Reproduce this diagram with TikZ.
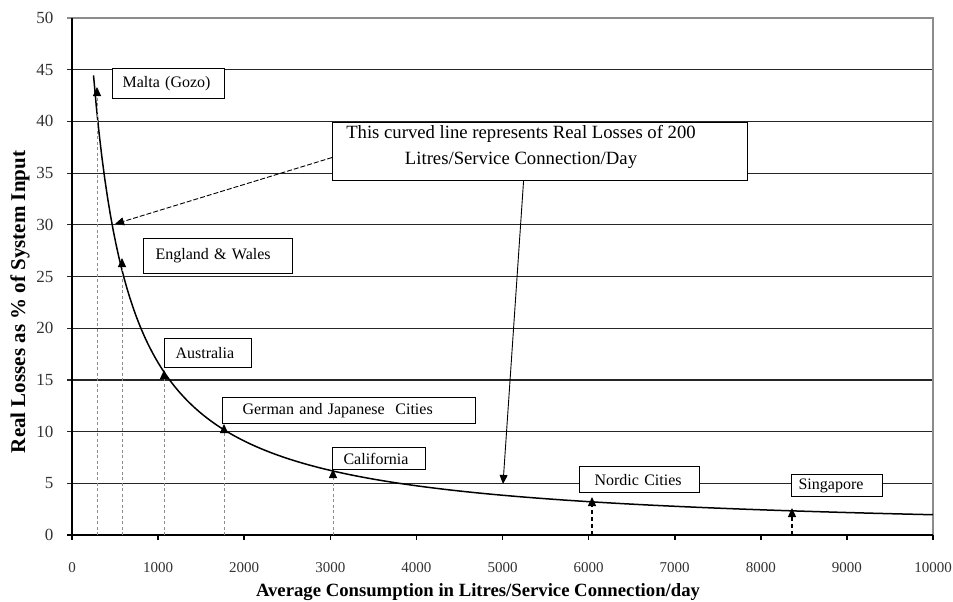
\documentclass[tikz,border=0pt]{standalone}
\usepackage{fontspec}
\setmainfont{Liberation Serif}
\usetikzlibrary{arrows.meta}
\begin{document}
\begin{tikzpicture}[x=1pt,y=-1pt,
  gridline/.style={line width=1.2pt, black!85},
  plotframe/.style={line width=1.1pt, black!45},
  axisline/.style={line width=1.6pt, black},
  lbl/.style={draw, fill=white, line width=1.1pt, font=\fontsize{16}{19}\selectfont, anchor=north west, align=left, inner ysep=0pt},
  drop/.style={dash pattern=on 3pt off 2.5pt, black!45, line width=0.9pt, -{Triangle[width=8pt,length=9pt,black]}},
  dropdark/.style={dash pattern=on 4pt off 3pt, black, line width=1.3pt, -{Triangle[width=8pt,length=9pt,black]}},
  noteline/.style={line width=0.9pt, black, -{Triangle[width=8pt,length=9pt]}},
  ytick/.style={anchor=east, font=\fontsize{17}{19}\selectfont, text=black!80},
  xtick/.style={font=\fontsize{15}{17}\selectfont, text=black!80},
]
\fill[white] (0,0) rectangle (953,602);
\useasboundingbox (0,0) rectangle (953,602);

% grid
\foreach \v in {5,10,...,45} \draw[gridline] (67,{535-10.34*\v}) -- (933,{535-10.34*\v});
\draw[plotframe] (67,18) -- (933,18) -- (933,535);
% axes
\draw[axisline] (72,18) -- (72,540);
\draw[axisline] (67,535) -- (933,535);
\foreach \i in {1,...,10} \draw[axisline] ({72+86.1*\i},535) -- ++(0,5);

% tick labels
\foreach \v in {0,5,...,50} \node[ytick] (yl\v) at (57,{535-10.34*\v}) {\v};
\foreach \i/\t in {0/0,1/1000,2/2000,3/3000,4/4000,5/5000,6/6000,7/7000,8/8000,9/9000,10/10000}
  \node[xtick] (xl\i) at ({72+86.1*\i},568) {\t};

% axis titles
\node[rotate=90, font=\bfseries\fontsize{21}{24}\selectfont] (ylab) at (20,302) {Real Losses as \% of System Input};
\node[font=\bfseries\fontsize{18.7}{22}\selectfont] (xlab) at (478,592) {Average Consumption in Litres/Service Connection/day};

% curve
\draw[line width=1.5pt, black] plot[domain=2.5:100, samples=300] ({72+8.61*\x},{535-2068/(\x+2)});

% drop lines
\coordinate (mb) at (97,535);  \coordinate (mt) at (97,87);
\coordinate (eb) at (122,535); \coordinate (et) at (122,258);
\coordinate (ab) at (164,535); \coordinate (at1) at (164,370);
\coordinate (gb) at (224,535); \coordinate (gt) at (224,424);
\coordinate (cb) at (333,535); \coordinate (ct) at (333,469);
\coordinate (nb) at (592,535); \coordinate (nt) at (592,497);
\coordinate (sb) at (792,535); \coordinate (st) at (792,508);
\draw[drop] (mb) -- (mt);
\draw[drop] (eb) -- (et);
\draw[drop] (ab) -- (at1);
\draw[drop] (gb) -- (gt);
\draw[drop] (cb) -- (ct);
\draw[dropdark] (nb) -- (nt);
\draw[dropdark] (sb) -- (st);

% labels
\node[lbl, text width=92pt, inner xsep=10pt, minimum height=30pt] (malta) at (112,68) {Malta (Gozo)};
\node[lbl, text width=125pt, inner xsep=12pt, minimum height=35pt] (eng) at (143,238) {England \& Wales};
\node[lbl, text width=65pt, inner xsep=11pt, minimum height=29pt] (aus) at (164,338) {Australia};
\node[lbl, text width=213pt, inner xsep=20pt, minimum height=26pt] (ger) at (222,397) {German and Japanese~ Cities};
\node[lbl, text width=71pt, inner xsep=11pt, minimum height=22pt] (cal) at (332,447) {California};
\node[lbl, text width=90pt, inner xsep=15pt, minimum height=26pt] (nor) at (579,466) {Nordic Cities};
\node[lbl, text width=77pt, inner xsep=7pt, minimum height=22pt] (sin) at (791,474) {Singapore};

% note
\node[draw, fill=white, line width=1.1pt, anchor=north west, minimum width=415pt, minimum height=58pt, inner sep=0pt] (note) at (332,122) {};
\node[font=\fontsize{18.7}{26}\selectfont, align=center, text=black] (notetext) at (521,147) {This curved line represents Real Losses of 200\\Litres/Service Connection/Day};

\coordinate (c30) at (115,224);
\coordinate (c5k) at (503,484);
\draw[noteline, dash pattern=on 5pt off 2pt] ([yshift=-6pt]note.west) -- (c30);
\draw[noteline] ([xshift=-16.5pt]note.south) -- (c5k);
\end{tikzpicture}
\end{document}
